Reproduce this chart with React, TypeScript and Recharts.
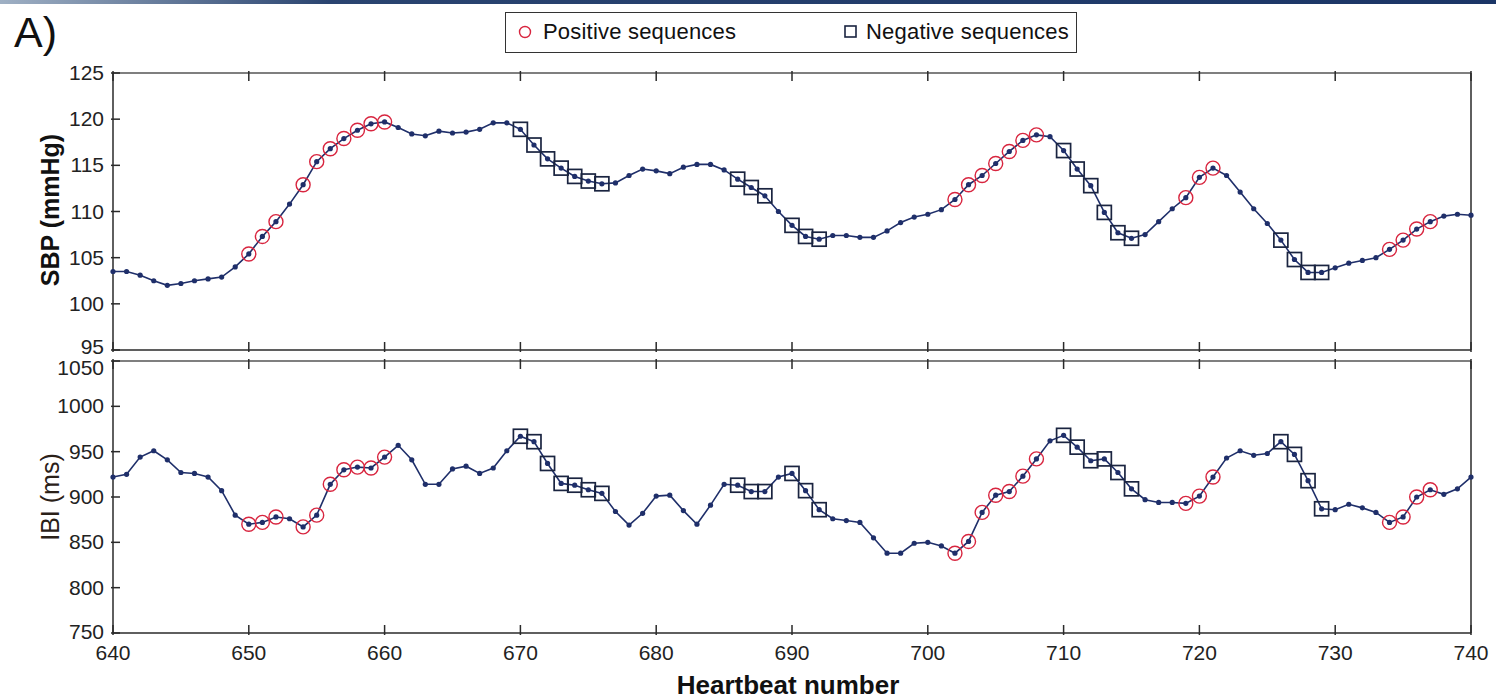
import { ComposedChart, Line, XAxis, YAxis } from "recharts"

// heartbeat index 640..740
const beats = Array.from({ length: 101 }, (_, i) => 640 + i)

// systolic blood pressure (mmHg), one value per beat
const sbp = [
  103.5, 103.5, 103.1, 102.5, 102.0, 102.2, 102.5, 102.7, 102.9, 104.0,
  105.4, 107.3, 108.9, 110.8, 112.9, 115.4, 116.8, 117.9, 118.8, 119.5,
  119.7, 119.1, 118.4, 118.2, 118.7, 118.5, 118.6, 118.9, 119.6, 119.6,
  118.9, 117.2, 115.7, 114.7, 113.8, 113.3, 113.0, 113.1, 113.9, 114.6,
  114.4, 114.1, 114.8, 115.1, 115.1, 114.5, 113.5, 112.6, 111.7, 110.0,
  108.5, 107.3, 107.0, 107.4, 107.4, 107.2, 107.2, 107.9, 108.8, 109.4,
  109.7, 110.2, 111.3, 112.9, 113.9, 115.2, 116.5, 117.7, 118.3, 118.1,
  116.6, 114.6, 112.8, 109.9, 107.7, 107.1, 107.5, 108.9, 110.3, 111.5,
  113.7, 114.7, 113.9, 112.1, 110.3, 108.7, 106.9, 104.8, 103.4, 103.4,
  103.9, 104.4, 104.7, 105.0, 105.9, 106.9, 108.1, 108.9, 109.5, 109.7,
  109.6,
]

// inter-beat interval (ms)
const ibi = [
  922, 925, 944, 951, 941, 927, 926, 922, 907, 880,
  870, 872, 878, 876, 867, 880, 914, 930, 933, 932,
  944, 957, 941, 914, 914, 931, 934, 926, 932, 951,
  967, 961, 937, 915, 913, 908, 904, 884, 869, 882,
  901, 902, 885, 870, 891, 914, 913, 906, 906, 922,
  926, 907, 886, 876, 874, 872, 855, 838, 838, 849,
  850, 846, 838, 851, 883, 902, 906, 923, 942, 962,
  968, 955, 940, 942, 927, 909, 897, 894, 894, 893,
  901, 922, 943, 951, 946, 948, 961, 947, 918, 887,
  886, 892, 888, 883, 872, 878, 900, 908, 903, 909,
  922,
]

const positiveBeats = [
  650, 651, 652, 654, 655, 656, 657, 658, 659, 660,
  702, 703, 704, 705, 706, 707, 708,
  719, 720, 721,
  734, 735, 736, 737,
]
const negativeBeats = [
  670, 671, 672, 673, 674, 675, 676,
  686, 687, 688, 690, 691, 692,
  710, 711, 712, 713, 714, 715,
  726, 727, 728, 729,
]

const xTicks = [640, 650, 660, 670, 680, 690, 700, 710, 720, 730, 740]
const sbpTicks = [95, 100, 105, 110, 115, 120, 125]
const ibiTicks = [750, 800, 850, 900, 950, 1000, 1050]

const data = beats.map((hb, i) => ({
  hb,
  sbp: sbp[i],
  ibi: ibi[i],
  pos: positiveBeats.includes(hb),
  neg: negativeBeats.includes(hb),
}))

const NAVY = "#1f2f6a"
const RED = "#d8253f"
const SQ = "#1a2440"
const AXIS = "#2a2a2a"
const FONT = "'Liberation Sans', Arial, sans-serif"
const TICK = 9

// matlab-style inward ticks; the end labels get nudged apart like the original
const labelShift: Record<number, number> = { 95: -3, 1050: 7, 750: -1 }

const LeftTick = (props: any) => {
  const { x, y, payload } = props
  const dy = labelShift[payload.value] || 0
  return (
    <g>
      <line x1={x} x2={x + TICK} y1={y} y2={y} stroke={AXIS} strokeWidth={1.5} />
      <text x={x - 7} y={y + 7 + dy} textAnchor="end" fontSize={21} fontFamily={FONT} fill="#222">
        {payload.value}
      </text>
    </g>
  )
}

const RightTick = (props: any) => {
  const { x, y } = props
  return <line x1={x} x2={x - TICK} y1={y} y2={y} stroke={AXIS} strokeWidth={1.5} />
}

const TopTick = (props: any) => {
  const { x, y } = props
  return <line x1={x} x2={x} y1={y} y2={y + TICK + 1} stroke={AXIS} strokeWidth={1.5} />
}

const BottomTick = (props: any) => {
  const { x, y } = props
  return <line x1={x} x2={x} y1={y} y2={y - TICK - 1} stroke={AXIS} strokeWidth={1.5} />
}

const BottomLabelTick = (props: any) => {
  const { x, y, payload } = props
  return (
    <g>
      <line x1={x} x2={x} y1={y} y2={y - TICK - 1} stroke={AXIS} strokeWidth={1.5} />
      <text x={x} y={y + 25} textAnchor="middle" fontSize={21} fontFamily={FONT} fill="#222">
        {payload.value}
      </text>
    </g>
  )
}

const posMarker = (p: any) =>
  p.payload.pos ? (
    <circle key={p.index} cx={p.cx} cy={p.cy} r={7} fill="none" stroke={RED} strokeWidth={1.4} />
  ) : (
    <g key={p.index} />
  )

const negMarker = (p: any) =>
  p.payload.neg ? (
    <rect key={p.index} x={p.cx - 7} y={p.cy - 7} width={14} height={14} fill="none" stroke={SQ} strokeWidth={1.7} />
  ) : (
    <g key={p.index} />
  )

function Panel({ dataKey, domain, ticks, labels }: { dataKey: string; domain: number[]; ticks: number[]; labels: boolean }) {
  return (
    <>
      <XAxis
        xAxisId="top"
        orientation="top"
        dataKey="hb"
        type="number"
        domain={[640, 740]}
        ticks={xTicks}
        height={labels ? 10 : 30}
        tickSize={0}
        tickLine={false}
        tick={<TopTick />}
        axisLine={{ stroke: "#555", strokeWidth: 1.5 }}
      />
      <XAxis
        dataKey="hb"
        type="number"
        domain={[640, 740]}
        ticks={xTicks}
        height={labels ? 40 : 5}
        tickSize={0}
        tickLine={false}
        tick={labels ? <BottomLabelTick /> : <BottomTick />}
        axisLine={{ stroke: AXIS, strokeWidth: 1.5 }}
      />
      <YAxis
        type="number"
        domain={domain}
        ticks={ticks}
        width={60}
        tickSize={0}
        tickLine={false}
        tick={<LeftTick />}
        axisLine={{ stroke: AXIS, strokeWidth: 1.5 }}
      />
      <YAxis
        yAxisId="r"
        orientation="right"
        type="number"
        domain={domain}
        ticks={ticks}
        width={20}
        tickSize={0}
        tickLine={false}
        tick={<RightTick />}
        axisLine={{ stroke: AXIS, strokeWidth: 1.5 }}
      />
      <Line
        dataKey={dataKey}
        stroke={NAVY}
        strokeWidth={1.6}
        dot={{ r: 2.6, fill: NAVY, stroke: NAVY, strokeWidth: 0 }}
        isAnimationActive={false}
      />
      <Line dataKey={dataKey} stroke="none" dot={negMarker} isAnimationActive={false} />
      <Line dataKey={dataKey} stroke="none" dot={posMarker} isAnimationActive={false} />
    </>
  )
}

export default function App() {
  return (
    <div style={{ position: "absolute", left: 0, top: 0, width: 1496, height: 698, background: "#fff", fontFamily: FONT, overflow: "hidden" }}>
      <div style={{ position: "absolute", left: 0, top: 0, width: 1496, height: 4, background: "linear-gradient(to right, #9fb0c4 0%, #2a4470 22%, #1b3566 100%)" }} />
      <div style={{ position: "absolute", left: 14, top: 8, fontSize: 43, color: "#111" }}>A)</div>

      <div style={{ position: "absolute", left: 505, top: 12, width: 572, height: 41, boxSizing: "border-box", border: "1.5px solid #333", background: "#fff", fontSize: 22, letterSpacing: 0.2, color: "#111", whiteSpace: "nowrap" }}>
        <svg width={20} height={20} style={{ position: "absolute", left: 9, top: 9 }}>
          <circle cx={10} cy={10} r={5.5} fill="none" stroke={RED} strokeWidth={1.4} />
        </svg>
        <span style={{ position: "absolute", left: 37, top: 6 }}>Positive sequences</span>
        <svg width={20} height={20} style={{ position: "absolute", left: 335, top: 9 }}>
          <rect x={4} y={4} width={11} height={11} fill="none" stroke={SQ} strokeWidth={1.6} />
        </svg>
        <span style={{ position: "absolute", left: 360, top: 6 }}>Negative sequences</span>
      </div>

      <div style={{ position: "absolute", left: 0, top: 0 }}>
        <ComposedChart width={1496} height={360} data={data} margin={{ top: 43, right: 5, bottom: 5, left: 53 }}>
          {Panel({ dataKey: "sbp", domain: [95, 125], ticks: sbpTicks, labels: false })}
        </ComposedChart>
      </div>

      <div style={{ position: "absolute", left: 0, top: 340 }}>
        <ComposedChart width={1496} height={358} data={data} margin={{ top: 11, right: 5, bottom: 25, left: 53 }}>
          {Panel({ dataKey: "ibi", domain: [750, 1050], ticks: ibiTicks, labels: true })}
        </ComposedChart>
      </div>

      <div style={{ position: "absolute", left: 50, top: 210, transform: "translate(-50%, -50%) rotate(-90deg)", fontSize: 25, fontWeight: "bold", whiteSpace: "nowrap", color: "#111" }}>
        SBP (mmHg)
      </div>
      <div style={{ position: "absolute", left: 50, top: 497, transform: "translate(-50%, -50%) rotate(-90deg)", fontSize: 25, whiteSpace: "nowrap", color: "#2a2018" }}>
        IBI (ms)
      </div>
      <div style={{ position: "absolute", left: 788, top: 685, transform: "translate(-50%, -50%)", fontSize: 26, fontWeight: "bold", whiteSpace: "nowrap", color: "#111" }}>
        Heartbeat number
      </div>
    </div>
  )
}
